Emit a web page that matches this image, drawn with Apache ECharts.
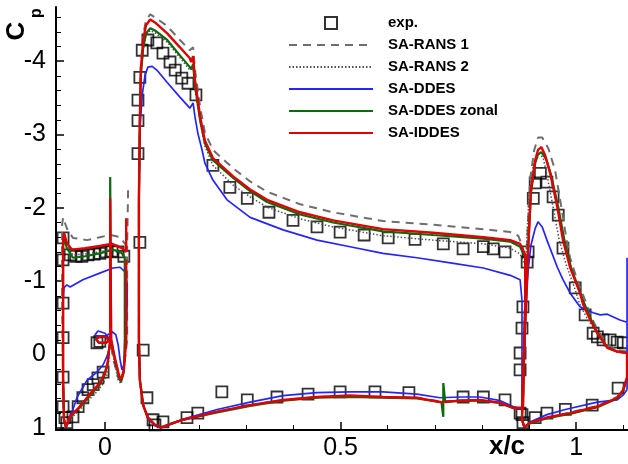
<!DOCTYPE html>
<html><head><meta charset="utf-8">
<script src="https://cdn.jsdelivr.net/npm/echarts@6/dist/echarts.min.js"></script>
<style>html,body{margin:0;padding:0;background:#fff}#c{width:628px;height:464px}</style>
</head><body><div id="c"></div>
<script>
// ---------- axis / tick data ----------
const xMin = -0.104, xMax = 1.11;
const yMin = -4.74, yMax = 1.03;
const xTickValues = [0, 0.5, 1];
const xTickLabels = ['0', '0.5', '1'];
const xMinorTicks = [0.1, 0.2, 0.3, 0.4, 0.6, 0.7, 0.8, 0.9, 1.1];
const yTickValues = [-4, -3, -2, -1, 0, 1];
const yTickLabels = ['-4', '-3', '-2', '-1', '0', '1'];
const yMinorTicks = [-4.6, -4.4, -4.2, -3.8, -3.6, -3.4, -3.2, -2.8, -2.6, -2.4, -2.2, -1.8, -1.6, -1.4, -1.2, -0.8, -0.6, -0.4, -0.2, 0.2, 0.4, 0.6, 0.8];
const seriesNames = ['exp.', 'SA-RANS 1', 'SA-RANS 2', 'SA-DDES', 'SA-DDES zonal', 'SA-IDDES'];

// ---------- experiment ----------
const expData = [
  [-0.089,-1.59],[-0.089,-1.29],[-0.089,-0.70],[-0.089,-0.23],[-0.089,0.31],[-0.089,0.71],[-0.085,0.86],[-0.081,0.93],
  [-0.068,0.85],[-0.057,0.71],[-0.047,0.59],[-0.036,0.48],[-0.025,0.41],[-0.015,0.32],[-0.004,0.24],[-0.017,-0.16],[-0.011,-0.18],
  [-0.074,-1.36],[-0.062,-1.34],[-0.049,-1.34],[-0.036,-1.36],[-0.023,-1.37],[-0.011,-1.38],[0.002,-1.40],[0.015,-1.41],[0.028,-1.40],[0.040,-1.34],
  [0.074,-1.53],[0.081,-0.06],[0.089,0.59],[0.102,0.89],[0.106,0.96],[0.123,0.92],
  [0.070,-2.74],[0.070,-3.19],[0.070,-3.47],[0.074,-3.78],[0.079,-4.15],[0.091,-4.29],[0.110,-4.25],[0.123,-4.11],[0.138,-3.99],
  [0.149,-3.88],[0.163,-3.77],[0.176,-3.70],[0.193,-3.54],
  [0.229,-2.58],[0.265,-2.28],[0.302,-2.13],[0.348,-1.94],[0.399,-1.83],[0.450,-1.74],[0.499,-1.67],[0.550,-1.63],[0.601,-1.59],
  [0.658,-1.57],[0.718,-1.51],[0.760,-1.44],[0.803,-1.47],[0.824,-1.44],[0.849,-1.40],[0.896,-1.26],[0.898,-1.40],
  [0.174,0.86],[0.197,0.80],[0.248,0.51],[0.302,0.62],[0.365,0.58],[0.431,0.54],[0.499,0.51],[0.573,0.51],[0.645,0.52],
  [0.760,0.58],[0.803,0.58],[0.849,0.62],[0.885,0.82],
  [0.887,-0.65],[0.885,-0.36],[0.881,-0.02],[0.881,0.21],[0.881,0.80],[0.887,0.93],
  [0.924,-2.47],[0.913,-2.34],[0.938,-2.35],[0.909,-2.13],[0.951,-2.15],[0.962,-1.90],[0.972,-1.45],[0.998,-0.91],[1.019,-0.54],
  [1.036,-0.29],[1.045,-0.24],[1.057,-0.20],[1.072,-0.20],[1.087,-0.17],[1.100,-0.16],
  [0.913,0.86],[0.938,0.80],[0.977,0.75],[1.034,0.69],[1.089,0.46]
];

// ---------- SA-RANS 1 (dashed) ----------
const rans1Slat = [
  [0.049,-2.24],[0.047,-1.47],[0.032,-1.60],[0.011,-1.63],[-0.011,-1.60],[-0.038,-1.56],[-0.068,-1.59],[-0.081,-1.72],[-0.089,-1.87],
  [-0.091,-1.77],[-0.091,-0.74],[-0.089,0.35],[-0.087,0.89],[-0.083,0.99],[-0.074,0.84],[-0.059,0.75],[-0.042,0.62],[-0.028,0.51],
  [-0.011,0.39],[0.000,0.25],[0.006,0.10],[0.0085,-0.06],[0.011,-0.17],[0.002,-0.24],[-0.011,-0.25],[-0.019,-0.21],[-0.013,-0.16],
  [0.002,-0.16],[0.011,-0.20],[0.017,0.05],[0.028,0.32],[0.034,0.37],[0.040,0.22],[0.047,-0.20],[0.047,-1.47]
];
const rans1Main = [
  [0.883,0.73],[0.866,0.72],[0.839,0.66],[0.796,0.62],[0.754,0.63],[0.711,0.64],[0.662,0.59],[0.590,0.58],[0.520,0.57],[0.450,0.58],
  [0.378,0.62],[0.308,0.69],[0.238,0.78],[0.166,0.89],[0.138,0.95],[0.121,0.99],[0.106,0.96],[0.091,0.86],[0.081,0.69],[0.074,0.35],
  [0.072,-0.20],[0.072,-1.02],[0.072,-2.11],[0.074,-3.19],[0.076,-3.94],[0.081,-4.35],[0.087,-4.56],[0.096,-4.64],[0.106,-4.60],
  [0.132,-4.48],[0.159,-4.29],[0.180,-4.15],[0.187,-4.19],[0.191,-3.88],[0.202,-3.37],[0.212,-3.03],[0.229,-2.79],[0.272,-2.54],
  [0.308,-2.36],[0.344,-2.22],[0.414,-2.05],[0.484,-1.94],[0.590,-1.82],[0.696,-1.77],[0.803,-1.71],[0.860,-1.67],[0.877,-1.62],
  [0.885,-1.49],[0.892,-1.29],[0.892,-0.74],[0.887,0.73]
];
const rans1Flap = [
  [1.108,-0.04],[1.087,-0.06],[1.066,-0.13],[1.045,-0.34],[1.030,-0.54],[1.019,-0.74],[1.002,-1.02],[0.987,-1.32],[0.977,-1.67],
  [0.966,-2.11],[0.955,-2.52],[0.941,-2.81],[0.928,-2.96],[0.919,-2.96],[0.911,-2.79],[0.902,-2.38],[0.896,-1.56],[0.892,-0.47],
  [0.887,0.35],[0.885,0.89],[0.890,0.99],[0.902,0.93],[0.938,0.86],[0.987,0.79],[1.045,0.70],[1.087,0.58],[1.100,0.47],[1.108,0.30],[1.108,-0.04]
];

// ---------- SA-RANS 2 (dotted) ----------
const rans2Slat = [
  [0.045,-1.32],[0.032,-1.38],[0.011,-1.43],[-0.011,-1.40],[-0.042,-1.37],[-0.068,-1.36],[-0.081,-1.49],[-0.087,-1.63],[-0.089,-1.49],
  [-0.089,-0.74],[-0.089,0.35],[-0.087,0.89],[-0.083,0.99],[-0.070,0.86],[-0.053,0.75],[-0.036,0.63],[-0.019,0.52],[-0.004,0.40],
  [0.006,0.25],[0.0085,0.05],[0.0085,-0.06],[0.011,-0.17],[0.002,-0.24],[-0.011,-0.25],[-0.019,-0.21],[-0.013,-0.16],[0.002,-0.16],
  [0.011,-0.20],[0.015,-0.06],[0.021,0.14],[0.028,0.35],[0.034,0.40],[0.040,0.24],[0.045,-0.20],[0.045,-1.32]
];
const rans2Main = [
  [0.883,0.73],[0.866,0.73],[0.839,0.66],[0.796,0.62],[0.754,0.63],[0.711,0.65],[0.662,0.59],[0.590,0.58],[0.520,0.57],[0.450,0.58],
  [0.378,0.62],[0.308,0.69],[0.238,0.78],[0.166,0.89],[0.138,0.95],[0.121,0.99],[0.106,0.96],[0.091,0.86],[0.081,0.69],[0.074,0.35],
  [0.072,-0.20],[0.072,-1.02],[0.072,-2.11],[0.074,-3.19],[0.076,-3.81],[0.081,-4.15],[0.087,-4.35],[0.096,-4.42],[0.106,-4.39],
  [0.132,-4.26],[0.159,-4.05],[0.180,-3.88],[0.187,-3.93],[0.191,-3.63],[0.202,-3.17],[0.212,-2.84],[0.229,-2.58],[0.272,-2.31],
  [0.308,-2.15],[0.344,-2.01],[0.414,-1.85],[0.484,-1.74],[0.590,-1.62],[0.696,-1.56],[0.803,-1.51],[0.860,-1.45],[0.881,-1.37],
  [0.892,-1.22],[0.892,-0.74],[0.887,0.73]
];
const rans2Flap = [
  [1.108,-0.03],[1.087,-0.04],[1.066,-0.11],[1.045,-0.30],[1.025,-0.47],[1.008,-0.68],[0.998,-0.88],[0.979,-1.22],[0.964,-1.56],
  [0.951,-2.01],[0.938,-2.45],[0.930,-2.68],[0.921,-2.75],[0.915,-2.70],[0.909,-2.58],[0.900,-2.17],[0.894,-1.43],[0.890,-0.47],
  [0.887,0.35],[0.885,0.89],[0.890,0.99],[0.902,0.93],[0.938,0.86],[0.987,0.80],[1.045,0.71],[1.087,0.59],[1.100,0.48],[1.108,0.31],[1.108,-0.03]
];

// ---------- SA-DDES (blue) ----------
const ddesSlat = [
  [0.047,-0.98],[0.042,-1.13],[0.032,-1.19],[0.017,-1.18],[-0.011,-1.11],[-0.047,-1.02],[-0.074,-0.92],[-0.081,-0.95],[-0.087,-0.91],
  [-0.089,-0.74],[-0.089,0.35],[-0.087,0.89],[-0.083,1.00],[-0.074,0.86],[-0.059,0.58],[-0.038,0.35],[-0.017,0.24],[-0.004,0.14],
  [0.004,0.03],[0.0085,-0.06],[0.011,-0.20],[0.000,-0.29],[-0.015,-0.32],[-0.021,-0.27],[-0.015,-0.23],[0.000,-0.24],[0.015,-0.31],
  [0.023,-0.27],[0.028,-0.13],[0.032,0.07],[0.036,0.21],[0.040,0.14],[0.045,-0.20],[0.047,-0.74],[0.047,-0.98]
];
const ddesMain = [
  [0.883,0.75],[0.866,0.71],[0.839,0.63],[0.796,0.58],[0.754,0.58],[0.711,0.59],[0.662,0.54],[0.590,0.51],[0.520,0.51],[0.450,0.52],
  [0.378,0.56],[0.308,0.65],[0.238,0.75],[0.166,0.88],[0.138,0.95],[0.121,1.00],[0.106,0.97],[0.091,0.88],[0.081,0.69],[0.074,0.35],
  [0.072,-0.20],[0.072,-1.02],[0.072,-2.11],[0.074,-3.06],[0.079,-3.54],[0.085,-3.81],[0.091,-3.92],[0.100,-3.93],[0.110,-3.88],
  [0.132,-3.71],[0.159,-3.51],[0.180,-3.36],[0.187,-3.43],[0.191,-3.24],[0.197,-3.02],[0.206,-2.79],[0.212,-2.61],[0.229,-2.38],
  [0.259,-2.11],[0.308,-1.87],[0.378,-1.70],[0.450,-1.56],[0.520,-1.47],[0.590,-1.38],[0.662,-1.32],[0.733,-1.25],[0.803,-1.18],
  [0.860,-1.08],[0.881,-1.02],[0.885,-0.74],[0.885,0.73]
];
const ddesFlap = [
  [1.108,0.48],[1.100,0.55],[1.087,0.62],[1.045,0.65],[0.977,0.75],[0.938,0.82],[0.902,0.92],[0.890,1.00],[0.885,0.89],[0.887,0.35],
  [0.892,-0.47],[0.898,-1.15],[0.904,-1.49],[0.913,-1.72],[0.919,-1.81],[0.928,-1.74],[0.938,-1.56],[0.960,-1.19],[0.972,-1.02],
  [0.987,-0.84],[1.008,-0.65],[1.036,-0.57],[1.051,-0.54],[1.066,-0.55],[1.093,-0.47],[1.108,-0.44],[1.108,-1.32],[1.108,0.48]
];

// ---------- SA-DDES zonal (green) ----------
const zonalSlat = [
  [0.042,-1.32],[0.034,-1.40],[0.015,-1.43],[-0.011,-1.38],[-0.042,-1.34],[-0.068,-1.32],[-0.081,-1.45],[-0.087,-1.60],[-0.089,-1.49],
  [-0.089,-0.74],[-0.089,0.35],[-0.087,0.89],[-0.083,0.99],[-0.074,0.85],[-0.059,0.76],[-0.042,0.64],[-0.028,0.53],[-0.011,0.41],
  [0.000,0.27],[0.006,0.11],[0.0085,-0.06],[0.011,-0.17],[0.002,-0.24],[-0.011,-0.25],[-0.019,-0.21],[-0.013,-0.16],[0.002,-0.16],
  [0.011,-0.20],[0.011,-2.42],[0.013,-0.20],[0.021,0.07],[0.030,0.32],[0.034,0.37],[0.040,0.24],[0.042,-0.20],[0.042,-1.32]
];
const zonalMain = [
  [0.883,0.73],[0.866,0.73],[0.839,0.66],[0.796,0.63],[0.754,0.63],[0.722,0.65],[0.718,0.39],[0.718,0.85],[0.714,0.65],[0.662,0.60],
  [0.590,0.59],[0.520,0.58],[0.450,0.59],[0.378,0.63],[0.308,0.70],[0.238,0.79],[0.166,0.89],[0.138,0.95],[0.121,0.99],[0.106,0.96],
  [0.091,0.86],[0.081,0.69],[0.074,0.35],[0.072,-0.20],[0.072,-1.02],[0.072,-2.11],[0.074,-3.19],[0.076,-3.81],[0.081,-4.18],
  [0.087,-4.38],[0.096,-4.45],[0.106,-4.42],[0.132,-4.29],[0.159,-4.08],[0.180,-3.92],[0.183,-3.89],[0.187,-3.96],[0.191,-3.67],
  [0.202,-3.19],[0.212,-2.88],[0.229,-2.65],[0.272,-2.41],[0.308,-2.23],[0.344,-2.08],[0.414,-1.91],[0.484,-1.80],[0.590,-1.68],
  [0.696,-1.63],[0.803,-1.58],[0.860,-1.54],[0.881,-1.47],[0.892,-1.32],[0.892,-0.74],[0.887,0.73]
];
const zonalFlap = [
  [1.108,-0.02],[1.087,-0.04],[1.066,-0.10],[1.045,-0.29],[1.030,-0.50],[1.017,-0.70],[1.008,-0.85],[0.989,-1.19],[0.975,-1.56],
  [0.962,-2.01],[0.947,-2.44],[0.936,-2.67],[0.926,-2.76],[0.919,-2.73],[0.913,-2.61],[0.904,-2.21],[0.898,-1.43],[0.892,-0.47],
  [0.887,0.35],[0.885,0.89],[0.890,0.99],[0.902,0.94],[0.938,0.87],[0.987,0.81],[1.045,0.72],[1.087,0.60],[1.100,0.49],[1.108,0.32],[1.108,-0.02]
];

// ---------- SA-IDDES (red) ----------
const iddesSlat = [
  [0.045,-1.86],[0.045,-1.40],[0.036,-1.45],[0.015,-1.51],[-0.011,-1.48],[-0.042,-1.45],[-0.070,-1.43],[-0.081,-1.52],[-0.087,-1.66],
  [-0.089,-1.56],[-0.089,-0.74],[-0.089,0.35],[-0.087,0.89],[-0.083,0.99],[-0.074,0.84],[-0.059,0.75],[-0.042,0.62],[-0.028,0.51],
  [-0.011,0.39],[0.000,0.25],[0.006,0.10],[0.0085,-0.06],[0.011,-0.17],[0.002,-0.24],[-0.011,-0.25],[-0.019,-0.21],[-0.013,-0.16],
  [0.002,-0.16],[0.011,-0.20],[0.011,-2.13],[0.013,-0.20],[0.021,0.05],[0.030,0.29],[0.034,0.35],[0.040,0.21],[0.045,-0.20],[0.045,-1.29]
];
const iddesMain = [
  [0.883,0.73],[0.866,0.73],[0.839,0.66],[0.796,0.62],[0.754,0.63],[0.711,0.65],[0.662,0.59],[0.590,0.58],[0.520,0.56],[0.450,0.58],
  [0.378,0.62],[0.308,0.69],[0.238,0.78],[0.166,0.89],[0.138,0.95],[0.121,0.99],[0.106,0.96],[0.091,0.86],[0.081,0.69],[0.074,0.35],
  [0.072,-0.20],[0.072,-1.02],[0.072,-2.11],[0.074,-3.19],[0.076,-3.88],[0.081,-4.29],[0.087,-4.49],[0.096,-4.57],[0.106,-4.53],
  [0.132,-4.38],[0.159,-4.19],[0.180,-4.04],[0.183,-3.99],[0.187,-4.07],[0.191,-3.74],[0.202,-3.24],[0.212,-2.92],[0.229,-2.68],
  [0.272,-2.43],[0.308,-2.25],[0.344,-2.11],[0.414,-1.94],[0.484,-1.83],[0.590,-1.71],[0.696,-1.66],[0.803,-1.60],[0.860,-1.56],
  [0.881,-1.51],[0.892,-1.36],[0.892,-0.74],[0.887,0.73]
];
const iddesFlap = [
  [1.108,-0.02],[1.087,-0.04],[1.066,-0.09],[1.045,-0.29],[1.030,-0.47],[1.015,-0.68],[1.008,-0.84],[0.987,-1.19],[0.972,-1.56],
  [0.960,-2.01],[0.945,-2.47],[0.934,-2.72],[0.926,-2.83],[0.919,-2.79],[0.913,-2.65],[0.904,-2.24],[0.898,-1.43],[0.892,-0.47],
  [0.887,0.35],[0.885,0.89],[0.890,0.99],[0.902,0.93],[0.938,0.86],[0.987,0.80],[1.045,0.71],[1.087,0.59],[1.100,0.48],[1.108,0.31],[1.108,-0.02]
];

// ---------- chart ----------
const FONT = '"Liberation Sans", Arial, Helvetica, sans-serif';
const chart = echarts.init(document.getElementById('c'), null, {renderer: 'canvas'});
const gridBox = {left: 56, right: 0, top: 7, bottom: 34, containLabel: false};

function lineSeries(name, data, color, width, type) {
  return {type: 'line', name: name, data: data, symbol: 'none', showSymbol: false, smooth: false,
    lineStyle: {color: color, width: width, type: type}, itemStyle: {color: color}, silent: true, clip: true};
}
const styles = {
  'SA-RANS 1': ['#6e6e6e', 2, [8, 6]],
  'SA-RANS 2': ['#505050', 1.5, [1.5, 2]],
  'SA-DDES': ['#2424ff', 1.7, 'solid'],
  'SA-DDES zonal': ['#0b6a0b', 2.2, 'solid'],
  'SA-IDDES': ['#e00000', 2.4, 'solid']
};
const curveSets = [
  ['SA-RANS 1', [rans1Slat, rans1Main, rans1Flap]],
  ['SA-RANS 2', [rans2Slat, rans2Main, rans2Flap]],
  ['SA-DDES', [ddesSlat, ddesMain, ddesFlap]],
  ['SA-DDES zonal', [zonalSlat, zonalMain, zonalFlap]],
  ['SA-IDDES', [iddesSlat, iddesMain, iddesFlap]]
];
const series = [{
  type: 'scatter', name: 'exp.', data: expData, symbol: 'rect', symbolSize: 11, silent: true,
  itemStyle: {color: 'rgba(0,0,0,0)', borderColor: '#000', borderWidth: 1.8}
}];
curveSets.forEach(function (cs) {
  const st = styles[cs[0]];
  cs[1].forEach(function (d) { series.push(lineSeries(cs[0], d, st[0], st[1], st[2])); });
});

const legendData = seriesNames.map(function (n) {
  if (n === 'exp.') {
    return {name: n, icon: 'path://M0 0L10 0L10 10L0 10Z',
      itemStyle: {color: 'rgba(0,0,0,0)', borderColor: '#000', borderWidth: 2}};
  }
  return {name: n, itemStyle: {opacity: 0}};
});

const option = {
  animation: false,
  backgroundColor: '#fff',
  grid: [Object.assign({}, gridBox), Object.assign({}, gridBox)],
  xAxis: [{
    type: 'value', gridIndex: 0, min: xMin, max: xMax,
    axisLine: {onZero: false, lineStyle: {color: '#000', width: 2}},
    axisTick: {inside: true, length: 8, customValues: xTickValues, lineStyle: {color: '#000', width: 1.5}},
    axisLabel: {customValues: xTickValues, formatter: function (v) { const i = xTickValues.indexOf(v); return i >= 0 ? xTickLabels[i] : ''; },
      fontSize: 25, color: '#000', fontFamily: FONT, margin: 6},
    splitLine: {show: false}
  }, {
    type: 'value', gridIndex: 1, min: xMin, max: xMax,
    axisLine: {show: false, onZero: false},
    axisTick: {inside: true, length: 5, customValues: xMinorTicks, lineStyle: {color: '#000', width: 1}},
    axisLabel: {show: false}, splitLine: {show: false}
  }],
  yAxis: [{
    type: 'value', gridIndex: 0, min: yMin, max: yMax, inverse: true,
    axisLine: {onZero: false, lineStyle: {color: '#000', width: 2}},
    axisTick: {inside: true, length: 8, customValues: yTickValues, lineStyle: {color: '#000', width: 1.5}},
    axisLabel: {customValues: yTickValues, formatter: function (v) { const i = yTickValues.indexOf(v); return i >= 0 ? yTickLabels[i] : ''; },
      fontSize: 25, color: '#000', fontFamily: FONT, margin: 10},
    splitLine: {show: false}
  }, {
    type: 'value', gridIndex: 1, min: yMin, max: yMax, inverse: true,
    axisLine: {show: false, onZero: false},
    axisTick: {inside: true, length: 5, customValues: yMinorTicks, lineStyle: {color: '#000', width: 1}},
    axisLabel: {show: false}, splitLine: {show: false}
  }],
  legend: {
    orient: 'vertical', left: 288, top: 15, padding: 0, itemWidth: 84, itemHeight: 12, itemGap: 6,
    selectedMode: false, symbolKeepAspect: true,
    textStyle: {fontSize: 15, fontWeight: 'bold', fontFamily: FONT, color: '#000', lineHeight: 16, padding: [0, 0, 0, 10]},
    data: legendData
  },
  graphic: [
    {type: 'text', x: 17, y: 31, rotation: Math.PI / 2, silent: true,
      style: {text: 'C', fontSize: 26, fontWeight: 'bold', fontFamily: FONT, fill: '#000', align: 'center', verticalAlign: 'middle'}},
    {type: 'text', x: 37, y: 13, rotation: Math.PI / 2, silent: true,
      style: {text: 'p', fontSize: 16, fontWeight: 'bold', fontFamily: FONT, fill: '#000', align: 'center', verticalAlign: 'middle'}},
    {type: 'text', x: 507, y: 447, silent: true,
      style: {text: 'x/c', fontSize: 26, fontWeight: 'bold', fontFamily: FONT, fill: '#000', align: 'center', verticalAlign: 'middle'}}
  ],
  series: series
};
chart.setOption(option);
</script></body></html>
